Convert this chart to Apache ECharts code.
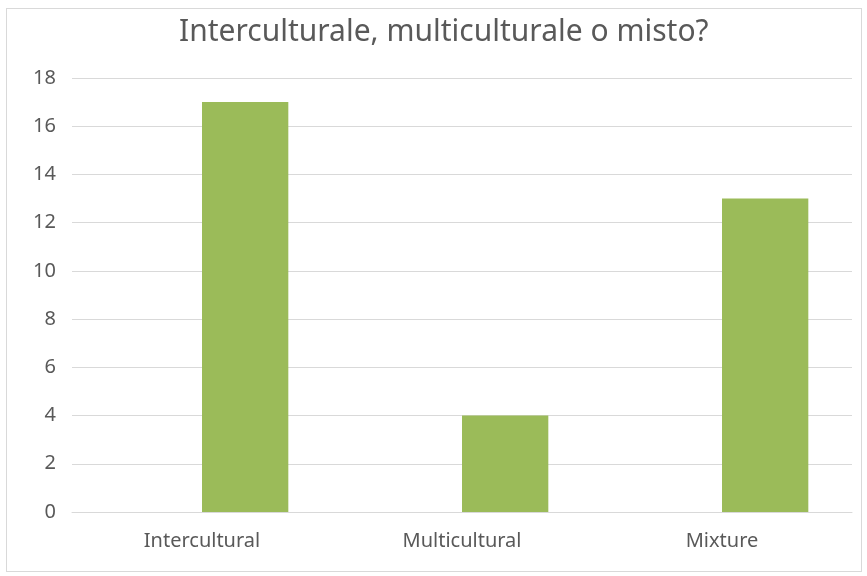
<!DOCTYPE html>
<html>
<head>
<meta charset="utf-8">
<script src="https://cdn.jsdelivr.net/npm/echarts@6/dist/echarts.min.js"></script>
<style>
  html, body { margin: 0; padding: 0; background: #fff; }
  #frame { position: absolute; left: 6px; top: 8px; width: 856px; height: 564px; border: 1px solid #d9d9d9; box-sizing: border-box; }
  #chart { position: absolute; left: 0; top: 0; width: 867px; height: 576px; }
</style>
</head>
<body>
<div id="frame"></div>
<div id="chart"></div>
<script>
const categories = ['Intercultural', 'Multicultural', 'Mixture'];
const emptySeries = ['-', '-', '-'];
const values = [17, 4, 13];
const yTicks = { min: 0, max: 18, interval: 2 };

const chart = echarts.init(document.getElementById('chart'));
const textColor = '#595959';
const gridColor = '#d9d9d9';
const font = 'Noto Sans';

const option = {
  animation: false,
  title: {
    text: 'Interculturale, multiculturale o misto?',
    left: 174,
    top: 12,
    textStyle: { color: textColor, fontFamily: font, fontWeight: 'normal', fontSize: 30 }
  },
  grid: { left: 72, right: 15, top: 78, bottom: 64 },
  xAxis: {
    type: 'category',
    data: categories,
    axisLine: { lineStyle: { color: gridColor } },
    axisTick: { show: false },
    axisLabel: { color: textColor, fontFamily: font, fontSize: 20, margin: 19 }
  },
  yAxis: {
    type: 'value',
    min: yTicks.min,
    max: yTicks.max,
    interval: yTicks.interval,
    axisLine: { show: false },
    axisTick: { show: false },
    splitLine: { lineStyle: { color: gridColor, width: 1 } },
    axisLabel: { color: textColor, fontFamily: font, fontSize: 20, margin: 16 }
  },
  series: [
    {
      name: 'Serie 1',
      type: 'bar',
      data: emptySeries,
      barGap: 0,
      barCategoryGap: '33.6%'
    },
    {
      name: 'Serie 2',
      type: 'bar',
      data: values,
      itemStyle: { color: '#9bbb59' },
      barGap: 0,
      barCategoryGap: '33.6%'
    }
  ]
};

chart.setOption(option);
window.addEventListener('resize', () => chart.resize());
</script>
</body>
</html>
